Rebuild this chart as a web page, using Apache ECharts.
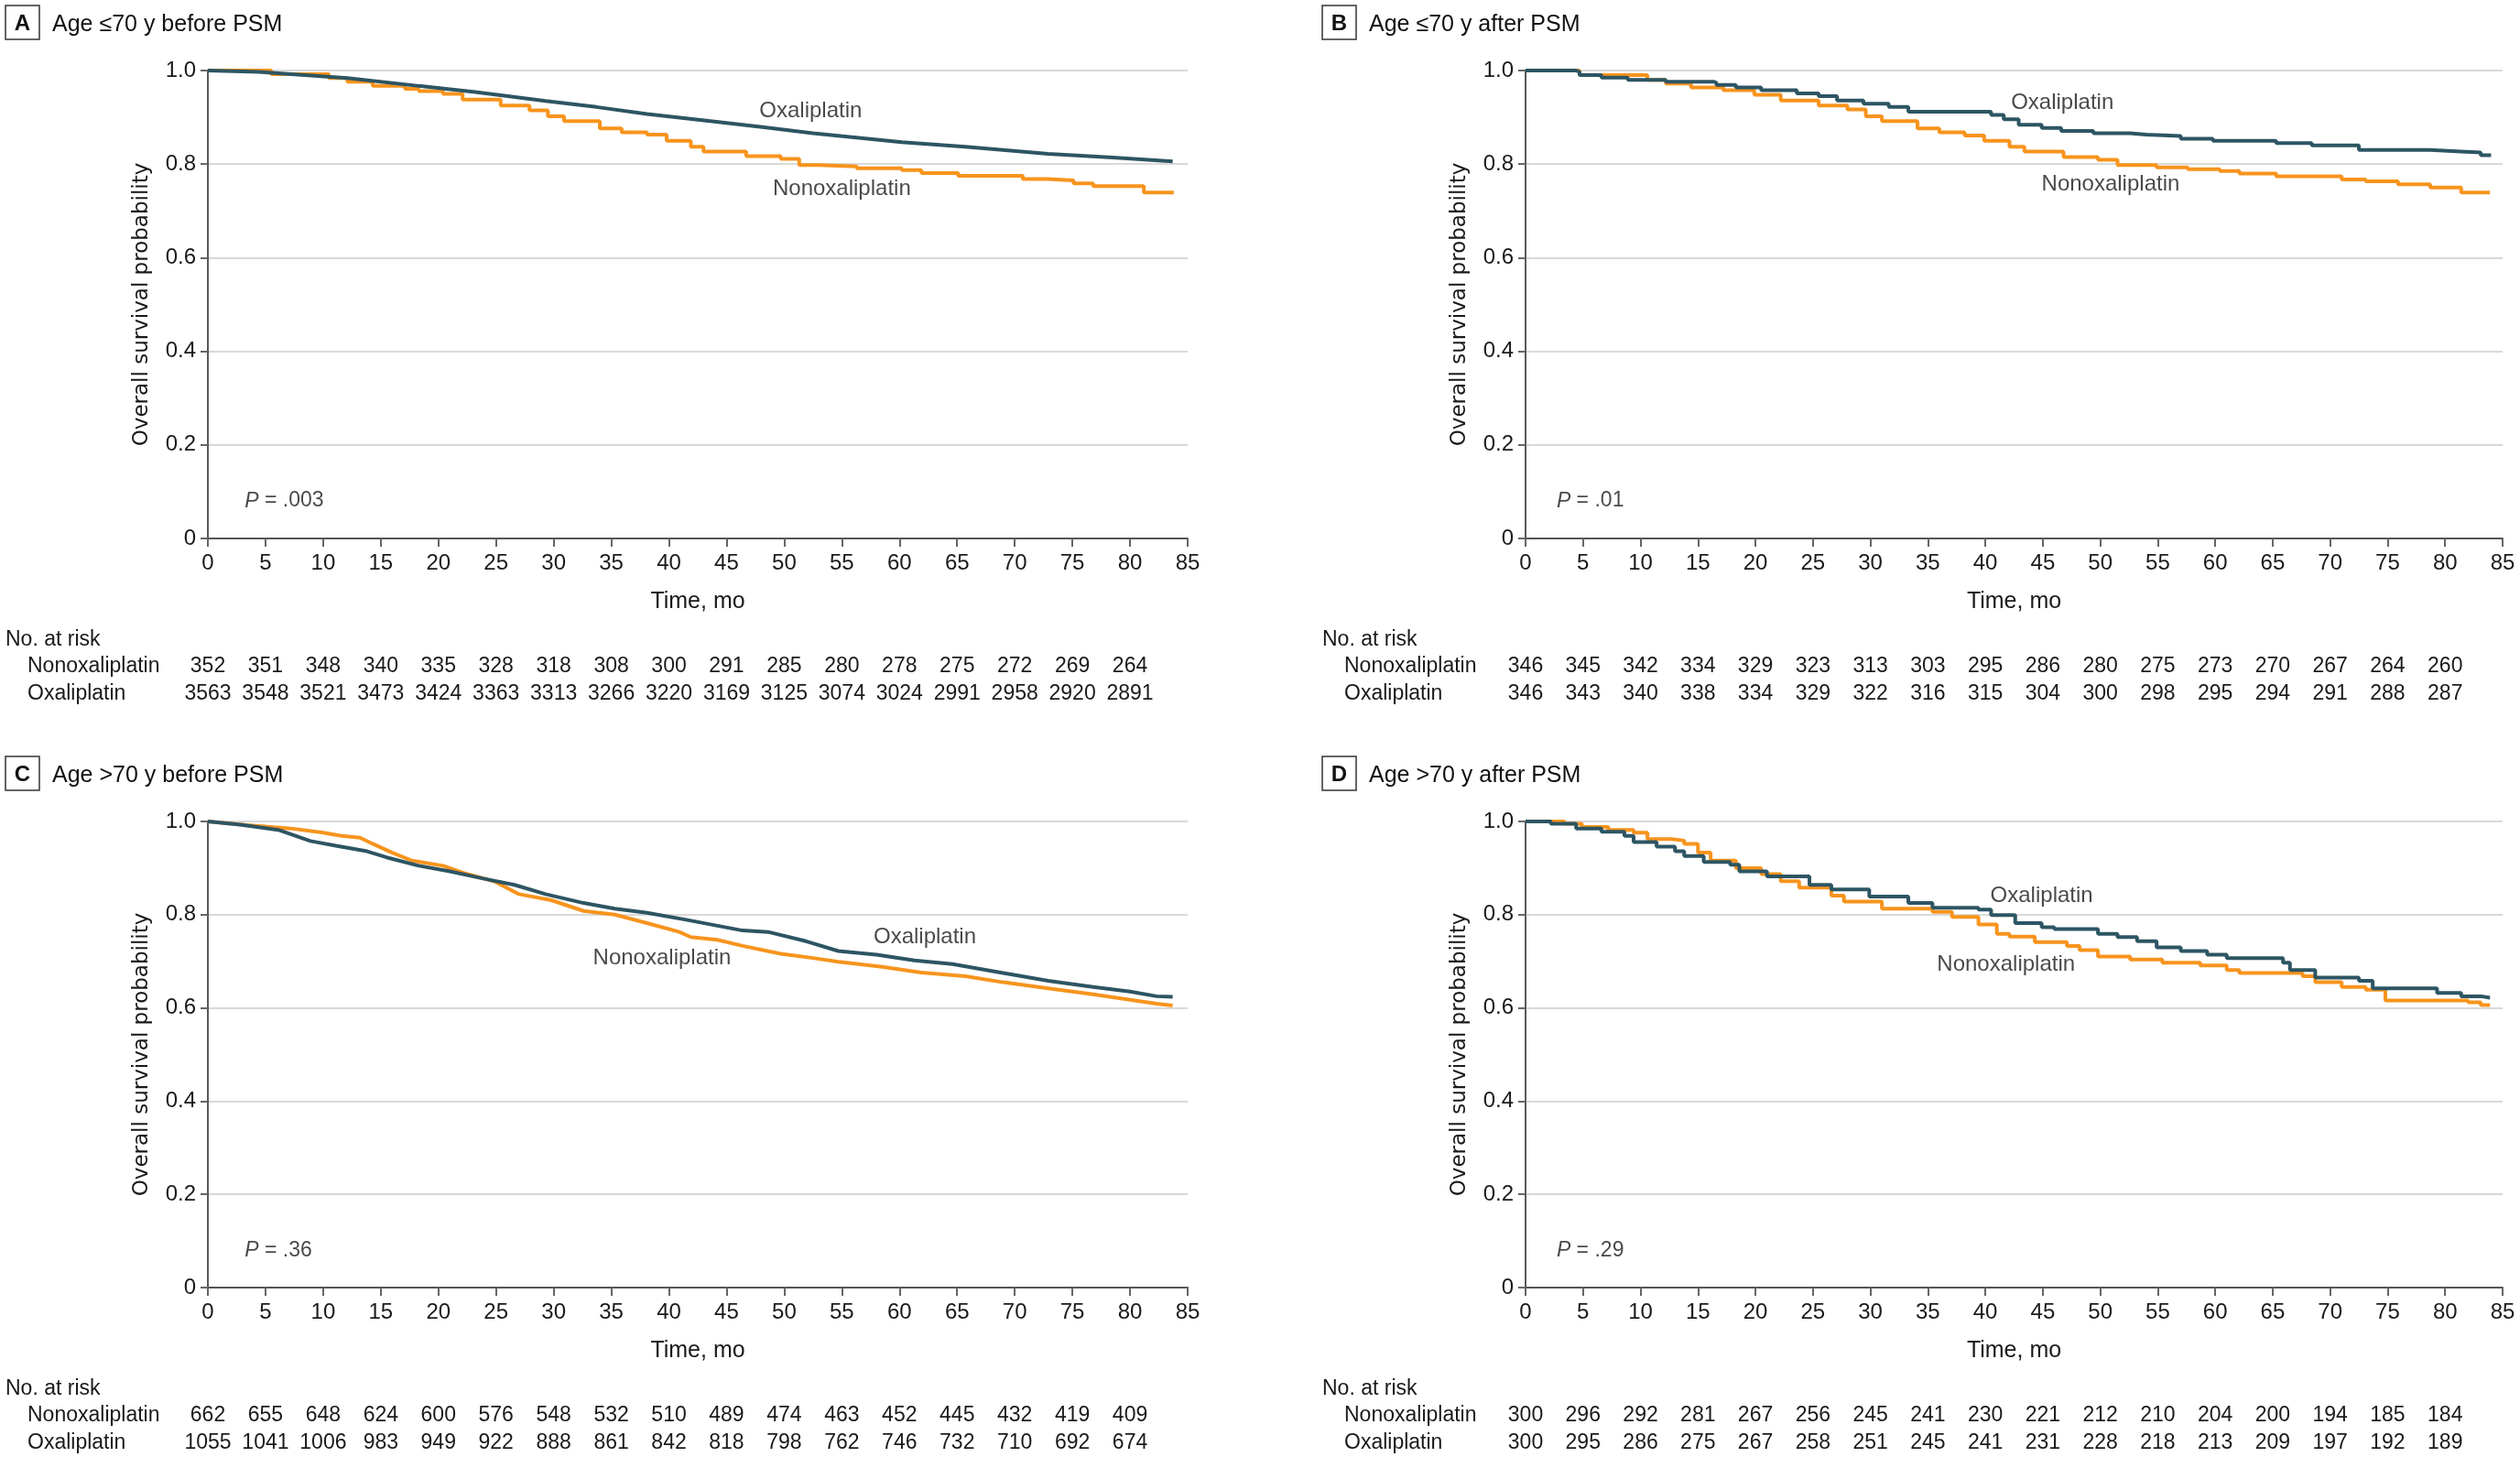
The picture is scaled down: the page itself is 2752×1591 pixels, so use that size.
<!DOCTYPE html>
<html><head><meta charset="utf-8">
<script src="https://cdn.jsdelivr.net/npm/echarts@6/dist/echarts.min.js"></script>
<style>html,body{margin:0;padding:0;background:#fff}#c{width:2752px;height:1591px}</style>
</head><body><div id="c"></div>
<script>
// ---------- DATA ----------
const xTicks = [0,5,10,15,20,25,30,35,40,45,50,55,60,65,70,75,80,85];
const yTicks = [0,0.2,0.4,0.6,0.8,1.0];

const curveA_oxa = [[0,1],[4.4,0.997],[12.1,0.984],[18.3,0.967],[23.2,0.954],[29.3,0.935],[33.7,0.922],[38.1,0.907],[43.6,0.892],[48.1,0.879],[52.5,0.866],[60.2,0.847],[65.7,0.837],[72.9,0.822],[78.5,0.814],[83.7,0.806]];
const curveA_non = [[0,1],[5.5,0.992],[10.5,0.984],[12.1,0.976],[14.3,0.967],[17.1,0.961],[18.3,0.956],[20.4,0.95],[22.1,0.938],[25.4,0.925],[27.9,0.915],[29.5,0.902],[30.9,0.892],[34.0,0.876],[35.9,0.868],[38.1,0.863],[39.8,0.85],[41.9,0.837],[43.0,0.827],[46.7,0.817],[49.7,0.811],[51.3,0.798],[53.0,0.795],[56.3,0.791],[60.2,0.787],[61.9,0.781],[65.1,0.775],[70.7,0.768],[72.9,0.765],[75.1,0.759],[76.8,0.753],[81.2,0.739],[83.8,0.739]];

const curveB_oxa = [[0,1],[4.4,0.997],[4.7,0.99],[6.6,0.985],[8.9,0.98],[12.2,0.976],[16.4,0.974],[16.6,0.969],[18.3,0.964],[20.5,0.958],[23.6,0.951],[25.5,0.945],[27.1,0.936],[29.4,0.929],[31.6,0.922],[33.3,0.912],[40.5,0.905],[41.6,0.896],[42.9,0.884],[44.9,0.877],[46.6,0.871],[49.4,0.866],[52.6,0.863],[54.0,0.86],[57.0,0.854],[59.8,0.85],[65.3,0.845],[68.4,0.84],[72.5,0.83],[78.7,0.827],[81.4,0.825],[83.1,0.819],[84.0,0.819]];
const curveB_non = [[0,1],[4.7,0.99],[10.6,0.98],[12.2,0.972],[14.4,0.964],[17.2,0.958],[19.9,0.948],[22.2,0.936],[25.5,0.925],[28.0,0.917],[29.6,0.902],[31.0,0.892],[34.1,0.876],[36.0,0.868],[38.2,0.861],[39.9,0.85],[42.1,0.837],[43.4,0.827],[46.8,0.815],[49.8,0.809],[51.5,0.798],[54.9,0.793],[57.6,0.789],[60.4,0.785],[62.1,0.78],[65.3,0.774],[71.0,0.767],[73.1,0.763],[75.9,0.757],[78.7,0.75],[81.4,0.739],[83.9,0.739]];

const curveC_oxa = [[0,1],[2.8,0.993],[6.1,0.982],[8.9,0.958],[11.1,0.948],[13.8,0.936],[15.5,0.923],[18.3,0.905],[21.0,0.893],[23.8,0.878],[26.6,0.864],[29.3,0.844],[32.6,0.825],[35.3,0.813],[38.1,0.804],[41.5,0.789],[46.4,0.766],[48.6,0.763],[51.9,0.743],[54.7,0.722],[58.0,0.714],[61.3,0.702],[64.6,0.694],[69.0,0.675],[72.9,0.658],[76.8,0.645],[80.0,0.635],[82.3,0.625],[83.7,0.624]];
const curveC_non = [[0,1],[3.4,0.992],[7.2,0.985],[10.0,0.976],[11.6,0.969],[13.2,0.965],[14.3,0.952],[16.0,0.933],[17.7,0.916],[20.4,0.905],[22.1,0.89],[24.9,0.871],[27.0,0.844],[29.8,0.831],[32.6,0.808],[35.3,0.8],[38.1,0.782],[40.9,0.763],[41.9,0.752],[44.2,0.746],[46.4,0.733],[49.7,0.716],[52.5,0.707],[54.7,0.699],[58.5,0.688],[61.9,0.676],[65.7,0.668],[69.0,0.655],[72.9,0.642],[76.8,0.629],[79.6,0.619],[82.3,0.609],[83.7,0.605]];

const curveD_oxa = [[0,1],[2.2,0.995],[4.4,0.985],[6.6,0.978],[8.6,0.969],[9.4,0.956],[11.4,0.946],[13.0,0.936],[13.8,0.926],[15.5,0.913],[17.8,0.907],[18.6,0.893],[21.0,0.882],[24.7,0.864],[26.6,0.854],[29.9,0.839],[33.3,0.825],[35.4,0.815],[39.4,0.811],[40.5,0.799],[42.6,0.782],[44.9,0.773],[46.0,0.769],[49.8,0.759],[51.5,0.752],[53.2,0.743],[54.9,0.73],[57.0,0.722],[59.3,0.714],[61.0,0.707],[65.9,0.697],[66.5,0.681],[68.7,0.665],[72.5,0.658],[73.7,0.642],[79.3,0.632],[81.4,0.625],[83.1,0.622],[83.9,0.622]];
const curveD_non = [[0,1],[3.4,0.995],[4.9,0.988],[7.2,0.982],[9.4,0.976],[10.6,0.962],[12.7,0.959],[13.8,0.952],[15.0,0.933],[16.1,0.916],[18.3,0.9],[20.5,0.887],[22.2,0.872],[23.8,0.858],[26.6,0.841],[27.7,0.828],[31.0,0.813],[35.4,0.806],[37.1,0.795],[39.4,0.779],[41.0,0.759],[42.1,0.753],[44.3,0.741],[47.1,0.733],[48.2,0.724],[49.8,0.71],[52.6,0.704],[55.4,0.697],[58.7,0.691],[61.0,0.681],[62.1,0.675],[67.6,0.668],[68.7,0.655],[71.0,0.645],[73.1,0.639],[74.8,0.616],[82.0,0.612],[83.1,0.606],[83.9,0.606]];

const riskA_non = [352,351,348,340,335,328,318,308,300,291,285,280,278,275,272,269,264];
const riskA_oxa = [3563,3548,3521,3473,3424,3363,3313,3266,3220,3169,3125,3074,3024,2991,2958,2920,2891];
const riskB_non = [346,345,342,334,329,323,313,303,295,286,280,275,273,270,267,264,260];
const riskB_oxa = [346,343,340,338,334,329,322,316,315,304,300,298,295,294,291,288,287];
const riskC_non = [662,655,648,624,600,576,548,532,510,489,474,463,452,445,432,419,409];
const riskC_oxa = [1055,1041,1006,983,949,922,888,861,842,818,798,762,746,732,710,692,674];
const riskD_non = [300,296,292,281,267,256,245,241,230,221,212,210,204,200,194,185,184];
const riskD_oxa = [300,295,286,275,267,258,251,245,241,231,228,218,213,209,197,192,189];

const labelsA = [[52.3,0.914,'Oxaliplatin'],[55.0,0.746,'Nonoxaliplatin']];
const labelsB = [[46.7,0.931,'Oxaliplatin'],[50.9,0.756,'Nonoxaliplatin']];
const labelsC = [[62.2,0.752,'Oxaliplatin'],[39.4,0.707,'Nonoxaliplatin']];
const labelsD = [[44.9,0.841,'Oxaliplatin'],[41.8,0.693,'Nonoxaliplatin']];
const pValues = ['.003','.01','.36','.29'];
const pPos = [[3.2,0.08],[2.7,0.08],[3.2,0.08],[2.7,0.08]];
const titles = ['Age ≤70 y before PSM','Age ≤70 y after PSM','Age >70 y before PSM','Age >70 y after PSM'];
const letters = ['A','B','C','D'];

// ---------- LAYOUT / STYLE ----------
const FONT = 'Liberation Sans';
const ORANGE = '#f7941d', DARK = '#2d5563', TXT = '#1a1a1a';
const W = 2752, H = 1591;
const cols = [{l:227, r:1297, bx:6}, {l:1666, r:2733, bx:1444}];
const rows = [{t:77, b:588, by:6}, {t:897, b:1406, by:826}];
const curves = [[curveA_oxa,curveA_non],[curveB_oxa,curveB_non],[curveC_oxa,curveC_non],[curveD_oxa,curveD_non]];
const risks = [[riskA_non,riskA_oxa],[riskB_non,riskB_oxa],[riskC_non,riskC_oxa],[riskD_non,riskD_oxa]];
const labels = [labelsA,labelsB,labelsC,labelsD];
const stepNon = ['end','end',false,'end'];
const stepOxa = [false,'end',false,'end'];

const grid=[], xAxis=[], yAxis=[], series=[], graphic=[];
for (let i=0;i<4;i++){
  const c = cols[i%2], r = rows[Math.floor(i/2)];
  grid.push({left:c.l, right:W-c.r, top:r.t, bottom:H-r.b, containLabel:false});
  xAxis.push({gridIndex:i, type:'value', min:0, max:85, interval:5, position:'bottom',
    axisLine:{onZero:false, lineStyle:{color:'#555', width:2}},
    axisTick:{length:9, lineStyle:{color:'#666', width:2}},
    axisLabel:{fontFamily:FONT, fontSize:24, color:TXT, margin:15, showMinLabel:true, showMaxLabel:true},
    splitLine:{show:false},
    name:'Time, mo', nameLocation:'middle', nameGap:57,
    nameTextStyle:{fontFamily:FONT, fontSize:25, color:TXT}});
  const mk = (arr, off) => ({gridIndex:i, type:'value', min:0, max:85, interval:5, position:'bottom', offset:off,
    axisLine:{show:false, onZero:false}, axisTick:{show:false}, splitLine:{show:false},
    axisLabel:{fontFamily:FONT, fontSize:23, color:TXT, margin:0, showMinLabel:true, showMaxLabel:true,
      formatter:v=>{const k=Math.round(v/5); return arr[k]!==undefined? String(arr[k]) : '';}}});
  xAxis.push(mk(risks[i][0],128));
  xAxis.push(mk(risks[i][1],158));
  yAxis.push({gridIndex:i, type:'value', min:0, max:1, interval:0.2,
    axisLine:{show:true, lineStyle:{color:'#222', width:1.5}},
    axisTick:{show:true, length:8, lineStyle:{color:'#666', width:2}},
    axisLabel:{fontFamily:FONT, fontSize:24, color:TXT, margin:13, formatter:v=> v===0?'0':v.toFixed(1)},
    splitLine:{show:true, lineStyle:{color:'#d9d9d9', width:2}},
    name:'Overall survival probability', nameLocation:'middle', nameGap:60,
    nameTextStyle:{fontFamily:'DejaVu Sans', fontSize:23, color:TXT}});
  series.push({type:'line', xAxisIndex:3*i, yAxisIndex:i, data:curves[i][1], step:stepNon[i],
    showSymbol:false, silent:true, z:3, lineStyle:{color:ORANGE, width:4}, itemStyle:{color:ORANGE}});
  series.push({type:'line', xAxisIndex:3*i, yAxisIndex:i, data:curves[i][0], step:stepOxa[i],
    showSymbol:false, silent:true, z:4, lineStyle:{color:DARK, width:4}, itemStyle:{color:DARK}});
  series.push({type:'scatter', xAxisIndex:3*i, yAxisIndex:i, data:labels[i], symbolSize:0, silent:true, z:5,
    label:{show:true, position:'inside', formatter:p=>p.value[2], fontFamily:FONT, fontSize:24, color:TXT}});
  series.push({type:'scatter', xAxisIndex:3*i, yAxisIndex:i, data:[[pPos[i][0],pPos[i][1],pValues[i]]], symbolSize:0, silent:true, z:5,
    label:{show:true, position:'right', distance:0, formatter:p=>'{i|P} = '+p.value[2], fontFamily:FONT, fontSize:23, color:TXT,
      rich:{i:{fontStyle:'italic', fontFamily:FONT, fontSize:23, color:TXT}}}});
  // panel letter box & title
  graphic.push({type:'rect', shape:{x:c.bx, y:r.by, width:37, height:37}, style:{fill:'#fff', stroke:'#333', lineWidth:1.5}});
  graphic.push({type:'text', x:c.bx+18.5, y:r.by+20, style:{text:letters[i], font:'bold 24px "Liberation Sans"', fill:'#111', align:'center', verticalAlign:'middle'}});
  graphic.push({type:'text', x:c.bx+51, y:r.by+21, style:{text:titles[i], font:'25px "Liberation Sans"', fill:'#111', align:'left', verticalAlign:'middle'}});
  // risk table headers
  const base = r.b;
  graphic.push({type:'text', x:c.bx, y:base+111, style:{text:'No. at risk', font:'23px "Liberation Sans"', fill:TXT, verticalAlign:'middle'}});
  graphic.push({type:'text', x:c.bx+24, y:base+140, style:{text:'Nonoxaliplatin', font:'23px "Liberation Sans"', fill:TXT, verticalAlign:'middle'}});
  graphic.push({type:'text', x:c.bx+24, y:base+170, style:{text:'Oxaliplatin', font:'23px "Liberation Sans"', fill:TXT, verticalAlign:'middle'}});
}

const chart = echarts.init(document.getElementById('c'), null, {renderer:'canvas'});
chart.setOption({backgroundColor:'#fff', animation:false, grid, xAxis, yAxis, series, graphic});
</script></body></html>
